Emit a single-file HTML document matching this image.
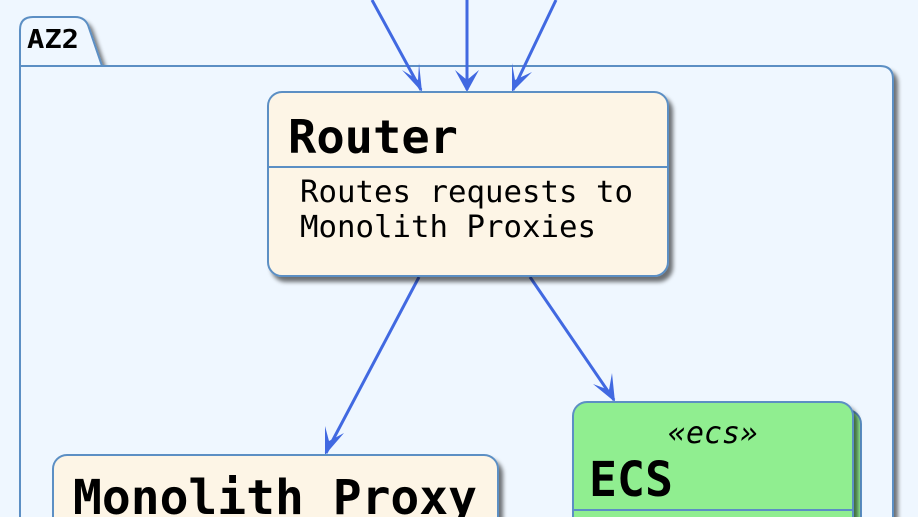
<!DOCTYPE html>
<html><head><meta charset="utf-8"><style>
html,body{margin:0;padding:0;background:#EFF7FF;width:918px;height:517px;overflow:hidden;}
svg{display:block}
text{font-family:"DejaVu Sans Mono","Liberation Mono",monospace;}
</style></head><body>
<svg width="918" height="517" viewBox="0 0 918 517" xmlns="http://www.w3.org/2000/svg">
<defs>
<filter id="sh" x="-10%" y="-10%" width="130%" height="130%">
<feGaussianBlur in="SourceAlpha" stdDeviation="2"/><feOffset dx="4" dy="5"/>
<feComponentTransfer><feFuncA type="linear" slope="0.55"/></feComponentTransfer>
<feMerge><feMergeNode/><feMergeNode in="SourceGraphic"/></feMerge></filter>
</defs>
<rect width="918" height="517" fill="#EFF7FF"/>
<path d="M20,540 L20,30 Q20,17 33,17 L75,17 Q86,17 89,28 L102,66 L880,66 Q893,66 893,79 L893,540" fill="#EFF7FF" stroke="#5B8FC4" stroke-width="2" filter="url(#sh)"/>
<line x1="20" y1="66" x2="102" y2="66" stroke="#5B8FC4" stroke-width="2"/>
<text x="27" y="48" font-size="26" font-weight="bold" textLength="52" lengthAdjust="spacingAndGlyphs">AZ2</text>
<g stroke="#4169E1" stroke-width="3" fill="none">
<line x1="372" y1="0" x2="421" y2="90"/>
<line x1="467" y1="0" x2="467" y2="90"/>
<line x1="556" y1="0" x2="513" y2="90"/>
<line x1="419" y1="277" x2="326" y2="453"/>
<line x1="530" y1="277" x2="614" y2="400"/>
</g>
<g fill="#4169E1">
<path d="M422,92 L402,70 L418,80 L419,63 Z"/>
<path d="M467,92 L455,70 L467,80 L479,70 Z"/>
<path d="M512,92 L512,63 L515,80 L532,72 Z"/>
<path d="M325,455 L325,426 L329,441 L344,433 Z"/>
<path d="M615,402 L593,384 L609,390 L612,373 Z"/>
</g>
<rect x="268" y="92" width="400" height="184" rx="14" fill="#FDF5E6" stroke="#5B8FC4" stroke-width="2" filter="url(#sh)"/>
<line x1="268" y1="167" x2="668" y2="167" stroke="#5B8FC4" stroke-width="2"/>
<text x="288" y="153" font-size="46" font-weight="bold" textLength="170" lengthAdjust="spacingAndGlyphs">Router</text>
<text x="300" y="202" font-size="30" textLength="333" lengthAdjust="spacingAndGlyphs">Routes requests to</text>
<text x="300" y="237" font-size="30" textLength="296" lengthAdjust="spacingAndGlyphs">Monolith Proxies</text>
<rect x="53" y="455" width="445" height="120" rx="14" fill="#FDF5E6" stroke="#5B8FC4" stroke-width="2" filter="url(#sh)"/>
<text x="73" y="514" font-size="48" font-weight="bold" textLength="404" lengthAdjust="spacingAndGlyphs">Monolith Proxy</text>
<rect x="581" y="410" width="280" height="160" rx="14" fill="#90EE90" stroke="#5B8FC4" stroke-width="2"/>
<rect x="573" y="402" width="280" height="160" rx="14" fill="#90EE90" stroke="#5B8FC4" stroke-width="2" filter="url(#sh)"/>
<line x1="573" y1="510" x2="853" y2="510" stroke="#5B8FC4" stroke-width="2"/>
<text x="713" y="443" font-size="30" font-style="italic" text-anchor="middle" textLength="90" lengthAdjust="spacingAndGlyphs">«ecs»</text>
<text x="589" y="496" font-size="48" font-weight="bold" textLength="84" lengthAdjust="spacingAndGlyphs">ECS</text>
</svg>
</body></html>
